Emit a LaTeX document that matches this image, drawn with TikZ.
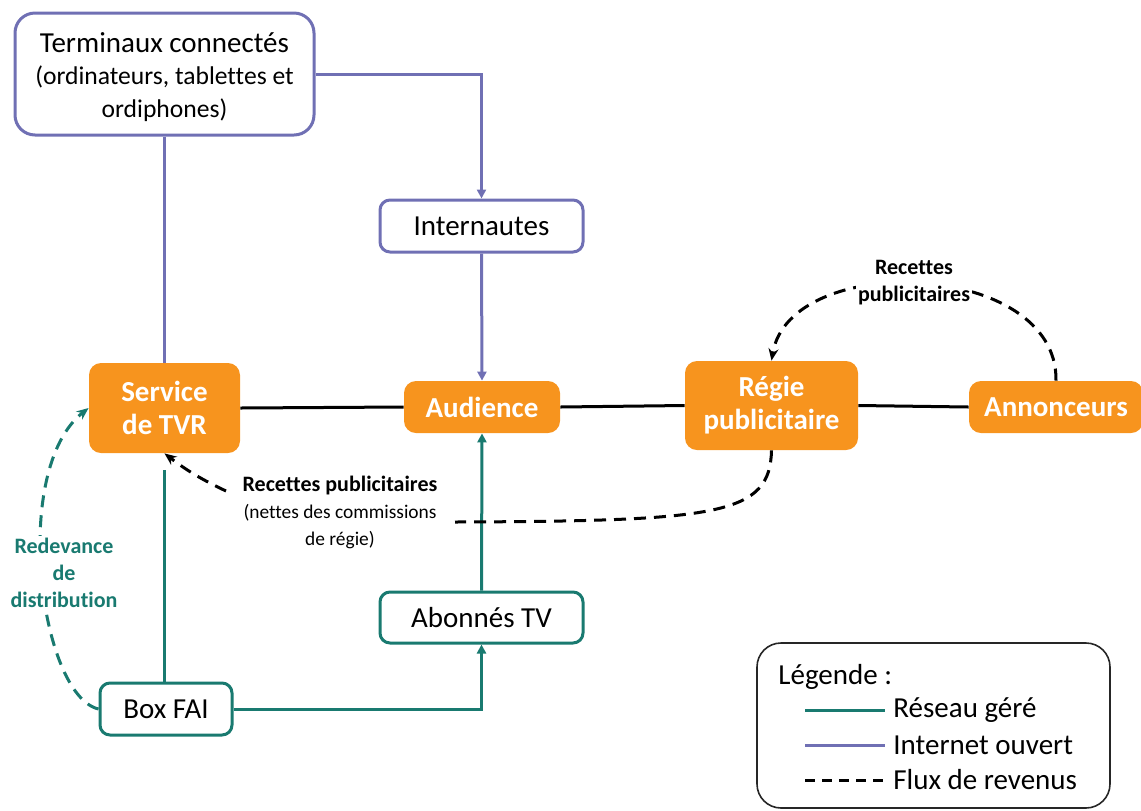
\documentclass[tikz,border=0pt]{standalone}
\usepackage{fontspec}
\setmainfont{Carlito}[Ligatures=NoCommon]
\usetikzlibrary{arrows.meta,calc}
\definecolor{teal2}{RGB}{25,122,112}
\definecolor{purp}{RGB}{112,112,180}
\definecolor{orng}{RGB}{247,148,30}
\begin{document}
\begin{tikzpicture}[x=0.5pt,y=-0.5pt,
 base/.style={font=\fontsize{14.5}{16.5}\selectfont, align=center, inner sep=0pt},
 netbox/.style={base, draw=purp, line width=1.5pt, rounded corners=5pt, fill=white},
 mgbox/.style={base, draw=teal2, line width=1.5pt, rounded corners=5pt, fill=white},
 obox/.style={base, fill=orng, text=white, font=\fontsize{14.5}{16.5}\selectfont\bfseries, rounded corners=6pt},
 inet/.style={draw=purp, line width=1.5pt},
 mgd/.style={draw=teal2, line width=1.5pt},
 flux/.style={draw=black, line width=1.5pt, dash pattern=on 6pt off 4pt},
 tip/.style={-{Triangle[length=4.5pt,width=4.5pt]}},
 ftip/.style={-{Stealth[length=6pt,width=5pt]}},
 lab/.style={font=\fontsize{11}{13.5}\selectfont\bfseries, align=center, fill=white, inner sep=1pt},
]
\useasboundingbox (0,0) rectangle (1141,810);
% nodes
\node[netbox, rounded corners=10pt, minimum width=149.5pt, minimum height=61pt] (term) at (164.5,74) {};
\node[base] (termt) at (164.5,77) {Terminaux connectés\\[-0.5pt]{\fontsize{12.8}{15}\selectfont (ordinateurs, tablettes et}\\{\fontsize{12.8}{15}\selectfont ordiphones)}};
\node[netbox, minimum width=101.5pt, minimum height=26pt] (inter) at (481.5,226) {Internautes};
\node[obox, minimum width=75.5pt, minimum height=45pt] (svc) at (164.5,408) {Service\\de TVR};
\node[obox, minimum width=78pt, minimum height=26pt] (aud) at (482,407) {Audience};
\node[obox, minimum width=86.5pt, minimum height=44.5pt] (regie) at (771.5,405.5) {Régie\\publicitaire};
\node[obox, minimum width=87pt, minimum height=26pt] (ann) at (1056,407) {Annonceurs};
\node[mgbox, minimum width=101.5pt, minimum height=25.5pt] (abon) at (481.5,617.5) {Abonnés TV};
\node[mgbox, minimum width=66pt, minimum height=26pt] (fai) at (166,709) {Box FAI};
% internet ouvert
\draw[inet,tip] (term.east) -| (inter.north);
\draw[inet] (term.south) -- (svc.north);
\draw[inet,tip] (inter.south) -- (aud.north);
% black links
\draw[line width=1.5pt] (svc.east) -- (aud.west) (aud.east) -- (regie.west) (regie.east) -- (ann.west);
% reseau gere
\draw[mgd, shorten >=8.5pt] (svc.south |- fai.north) -- (svc.south);
\draw[mgd,tip] (fai.east) -| (abon.south);
\draw[mgd,tip] (abon.north) -- (aud.south);
% redevance
\draw[mgd, dash pattern=on 6pt off 4pt, ftip] (fai.west) .. controls (40,695) and (10,470) .. (svc.west);
\node[lab, text=teal2] (redev) at (64,573) {Redevance\\de\\distribution};
% recettes nettes
\coordinate (f1) at (455,522);
\coordinate (f2) at (226,491);
\draw[flux] (regie.south) .. controls (770,515) and (720,521) .. (f1);
\draw[flux,ftip] (f2) to[bend left=6] (svc.south);
\node[lab, fill=none] (rp) at (340,512) {Recettes publicitaires\\{\mdseries\fontsize{9.7}{11.5}\selectfont (nettes des commissions}\\{\mdseries\fontsize{9.7}{11.5}\selectfont de régie)}};
% recettes annonceurs
\draw[flux,ftip] (ann.north) .. controls (1058,260) and (790,250) .. (regie.north);
\node[lab] (rp2) at (914,283) {Recettes\\publicitaires};
% legend
\node[draw=black!85, line width=0.8pt, rounded corners=12pt, minimum width=176.5pt, minimum height=82.5pt, inner sep=0pt] (leg) at (933.5,725.5) {};
\node[base, anchor=west] (legt) at (778,677) {Légende :};
\coordinate (l1a) at (805,710); \coordinate (l1b) at (885,710);
\coordinate (l2a) at (805,745); \coordinate (l2b) at (885,745);
\coordinate (l3a) at (805,780); \coordinate (l3b) at (885,780);
\draw[mgd] (l1a) -- (l1b);
\draw[inet] (l2a) -- (l2b);
\draw[flux, dash pattern=on 5pt off 3.5pt] (l3a) -- (l3b);
\node[base, anchor=west] (lt1) at ([xshift=4pt]l1b) {Réseau géré};
\node[base, anchor=west] (lt2) at ([xshift=4pt]l2b) {Internet ouvert};
\node[base, anchor=west] (lt3) at ([xshift=4pt]l3b) {Flux de revenus};
\end{tikzpicture}
\end{document}
